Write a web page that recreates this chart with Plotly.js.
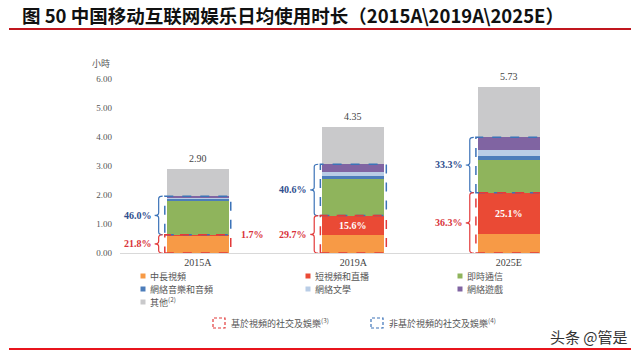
<!DOCTYPE html>
<html>
<head>
<meta charset="utf-8">
<script src="https://cdn.plot.ly/plotly-3.0.1.min.js"></script>
<style>html,body{margin:0;padding:0;background:#fff;}#chart{width:640px;height:351px;}</style>
</head>
<body>
<div id="chart"></div>
<script>
// ---- data (hours per day) ----
const categories = ['2015A', '2019A', '2025E'];
const seriesNames = ['中長視頻', '短視頻和直播', '即時通信', '網絡音樂和音頻', '網絡文學', '網絡遊戲', '其他<sup>(2)</sup>'];
const longVideo  = [0.58, 0.61, 0.64];
const shortVideo = [0.05, 0.68, 1.44];
const instantMsg = [1.16, 1.25, 1.11];
const music      = [0.06, 0.10, 0.16];
const literature = [0.06, 0.14, 0.19];
const gaming     = [0.05, 0.28, 0.45];
const other      = [0.94, 1.29, 1.74];
const totals     = [2.90, 4.35, 5.73];
const videoShare    = ['21.8%', '29.7%', '36.3%'];
const nonVideoShare = ['46.0%', '40.6%', '33.3%'];
const shortShare    = ['1.7%', '15.6%', '25.1%'];
const yTicks = [0, 1, 2, 3, 4, 5, 6];
const groupNames = ['基於視頻的社交及娛樂<sup>(3)</sup>', '非基於視頻的社交及娛樂<sup>(4)</sup>'];

// ---- styles ----
const colors = ['#F79A46', '#EA4A35', '#8FB45C', '#4C7DBA', '#B9CDE6', '#8064A2', '#C9C9CB'];
const seriesValues = [longVideo, shortVideo, instantMsg, music, literature, gaming, other];
const RED = '#E23A3A', BLUE = '#3C73B8', REDTXT = '#D9333A', BLUETXT = '#2F4E8E';
const serif = 'Liberation Serif, DejaVu Serif, serif';
const cjk = 'Noto Sans CJK TC, Noto Sans CJK SC, sans-serif';
const BW = 0.4;

const traces = seriesValues.map((v, k) => ({
  type: 'bar', x: categories, y: v, name: seriesNames[k],
  width: BW, marker: {color: colors[k], line: {width: 0}},
  hoverinfo: 'skip', showlegend: false
}));

const shapes = [];
const annotations = [];

// paper helpers (plot: x 120..540, y 79..253)
const px = p => (p - 120) / 420;
const py = p => (253 - p) / 174;

categories.forEach((c, i) => {
  const vTop = longVideo[i] + shortVideo[i];
  const gTop = vTop + instantMsg[i] + music[i] + literature[i] + gaming[i];
  const pad = 0.012;
  // dashed boxes
  shapes.push({type: 'rect', xref: 'x', yref: 'y', x0: i - BW / 2 - pad, x1: i + BW / 2 + pad, y0: vTop, y1: gTop,
    line: {color: BLUE, width: 1.5, dash: 'dash'}, fillcolor: 'rgba(0,0,0,0)'});
  shapes.push({type: 'rect', xref: 'x', yref: 'y', x0: i - BW / 2 - pad, x1: i + BW / 2 + pad, y0: 0, y1: vTop,
    line: {color: RED, width: 1.5, dash: 'dash'}, fillcolor: 'rgba(0,0,0,0)'});
  // braces
  const brace = (y0, y1, col) => {
    const ym = (y0 + y1) / 2, h = 0.09;
    return {type: 'path', xref: 'x', yref: 'y', xsizemode: 'pixel', xanchor: i - BW / 2,
      path: `M -4,${y1} Q -8,${y1} -8,${y1 - h} L -8,${ym + h} Q -8,${ym} -12,${ym} Q -8,${ym} -8,${ym - h} L -8,${y0 + h} Q -8,${y0} -4,${y0}`,
      line: {color: col, width: 1.2}};
  };
  shapes.push(brace(vTop, gTop, BLUE));
  shapes.push(brace(0, vTop, RED));
  annotations.push({x: i - BW / 2, y: (vTop + gTop) / 2, xref: 'x', yref: 'y', xanchor: 'right', yanchor: 'middle',
    xshift: -13, text: '<b>' + nonVideoShare[i] + '</b>', showarrow: false, font: {family: serif, size: 10, color: BLUETXT}});
  annotations.push({x: i - BW / 2, y: vTop / 2, xref: 'x', yref: 'y', xanchor: 'right', yanchor: 'middle',
    xshift: -13, text: '<b>' + videoShare[i] + '</b>', showarrow: false, font: {family: serif, size: 10, color: REDTXT}});
  // short video share
  if (i === 0) {
    annotations.push({x: i + BW / 2, y: vTop, xref: 'x', yref: 'y', xanchor: 'left', yanchor: 'middle',
      xshift: 10, text: '<b>' + shortShare[i] + '</b>', showarrow: false, font: {family: serif, size: 10, color: REDTXT}});
  } else {
    annotations.push({x: i, y: longVideo[i] + shortVideo[i] / 2, xref: 'x', yref: 'y', xanchor: 'center', yanchor: 'middle',
      text: '<b>' + shortShare[i] + '</b>', showarrow: false, font: {family: serif, size: 10, color: '#ffffff'}});
  }
  // totals
  annotations.push({x: i, y: totals[i], xref: 'x', yref: 'y', yanchor: 'bottom', yshift: 3,
    text: totals[i].toFixed(2), showarrow: false, font: {family: serif, size: 10, color: '#444'}});
});

// unit label
annotations.push({x: px(101), y: py(64), xref: 'paper', yref: 'paper', xanchor: 'center', yanchor: 'middle',
  text: '小時', showarrow: false, font: {family: cjk, size: 9, color: '#555'}});

// legend
const colX = [143, 308, 460];
const rowY = [276, 289, 302];
seriesNames.forEach((n, k) => {
  const cx = colX[k % 3], cy = rowY[Math.floor(k / 3)];
  shapes.push({type: 'rect', xref: 'paper', yref: 'paper', x0: px(cx - 2.5), x1: px(cx + 2.5), y0: py(cy + 2.5), y1: py(cy - 2.5),
    fillcolor: colors[k], line: {width: 0}});
  annotations.push({x: px(cx + 5), y: py(cy), xref: 'paper', yref: 'paper', xanchor: 'left', yanchor: 'middle',
    text: n, showarrow: false, font: {family: cjk, size: 9, color: '#555'}});
});
const boxX = [213, 371];
const boxCol = [RED, BLUE];
groupNames.forEach((n, k) => {
  shapes.push({type: 'rect', xref: 'paper', yref: 'paper', x0: px(boxX[k]), x1: px(boxX[k] + 12), y0: py(328), y1: py(318),
    line: {color: boxCol[k], width: 1.2, dash: '3px,2px'}, fillcolor: 'rgba(0,0,0,0)'});
  annotations.push({x: px(boxX[k] + 16), y: py(323), xref: 'paper', yref: 'paper', xanchor: 'left', yanchor: 'middle',
    text: n, showarrow: false, font: {family: cjk, size: 9, color: '#555'}});
});

// decorative rules
shapes.push({type: 'line', xref: 'paper', yref: 'paper', x0: px(9), x1: px(631), y0: py(29), y1: py(29),
  line: {color: '#C0161E', width: 2}});
shapes.push({type: 'line', xref: 'paper', yref: 'paper', x0: px(9), x1: px(631), y0: py(349), y1: py(349),
  line: {color: '#E8141C', width: 2}});
// watermark
annotations.push({x: px(630), y: py(336), xref: 'paper', yref: 'paper', xanchor: 'right', yanchor: 'middle',
  text: '头条 @管是', showarrow: false, font: {family: 'Noto Sans CJK SC, sans-serif', size: 15, color: '#333'}});

const layout = {
  width: 640, height: 351,
  margin: {l: 120, r: 100, t: 79, b: 98, pad: 0},
  paper_bgcolor: '#fff', plot_bgcolor: '#fff',
  barmode: 'stack', showlegend: false,
  title: {text: '<b>图 50 中国移动互联网娱乐日均使用时长（2015A\\2019A\\2025E）</b>',
    x: 22 / 640, xref: 'container', xanchor: 'left', y: 1 - 17 / 351, yref: 'container', yanchor: 'middle',
    font: {family: 'Noto Sans CJK SC, sans-serif', size: 18.5, color: '#111'}},
  xaxis: {type: 'category', range: [-0.5, 2.2], showgrid: false, zeroline: false,
    showline: true, linecolor: '#D9D9D9', linewidth: 1, ticks: '', fixedrange: true,
    tickfont: {family: serif, size: 10, color: '#444'}},
  yaxis: {range: [0, 6], tickvals: yTicks, tickformat: '.2f', showgrid: false, zeroline: false,
    showline: false, ticks: '', ticklabelstandoff: 7, fixedrange: true,
    tickfont: {family: serif, size: 9, color: '#555'}},
  shapes: shapes, annotations: annotations
};

Plotly.newPlot('chart', traces, layout, {displayModeBar: false, staticPlot: true});
</script>
</body>
</html>
